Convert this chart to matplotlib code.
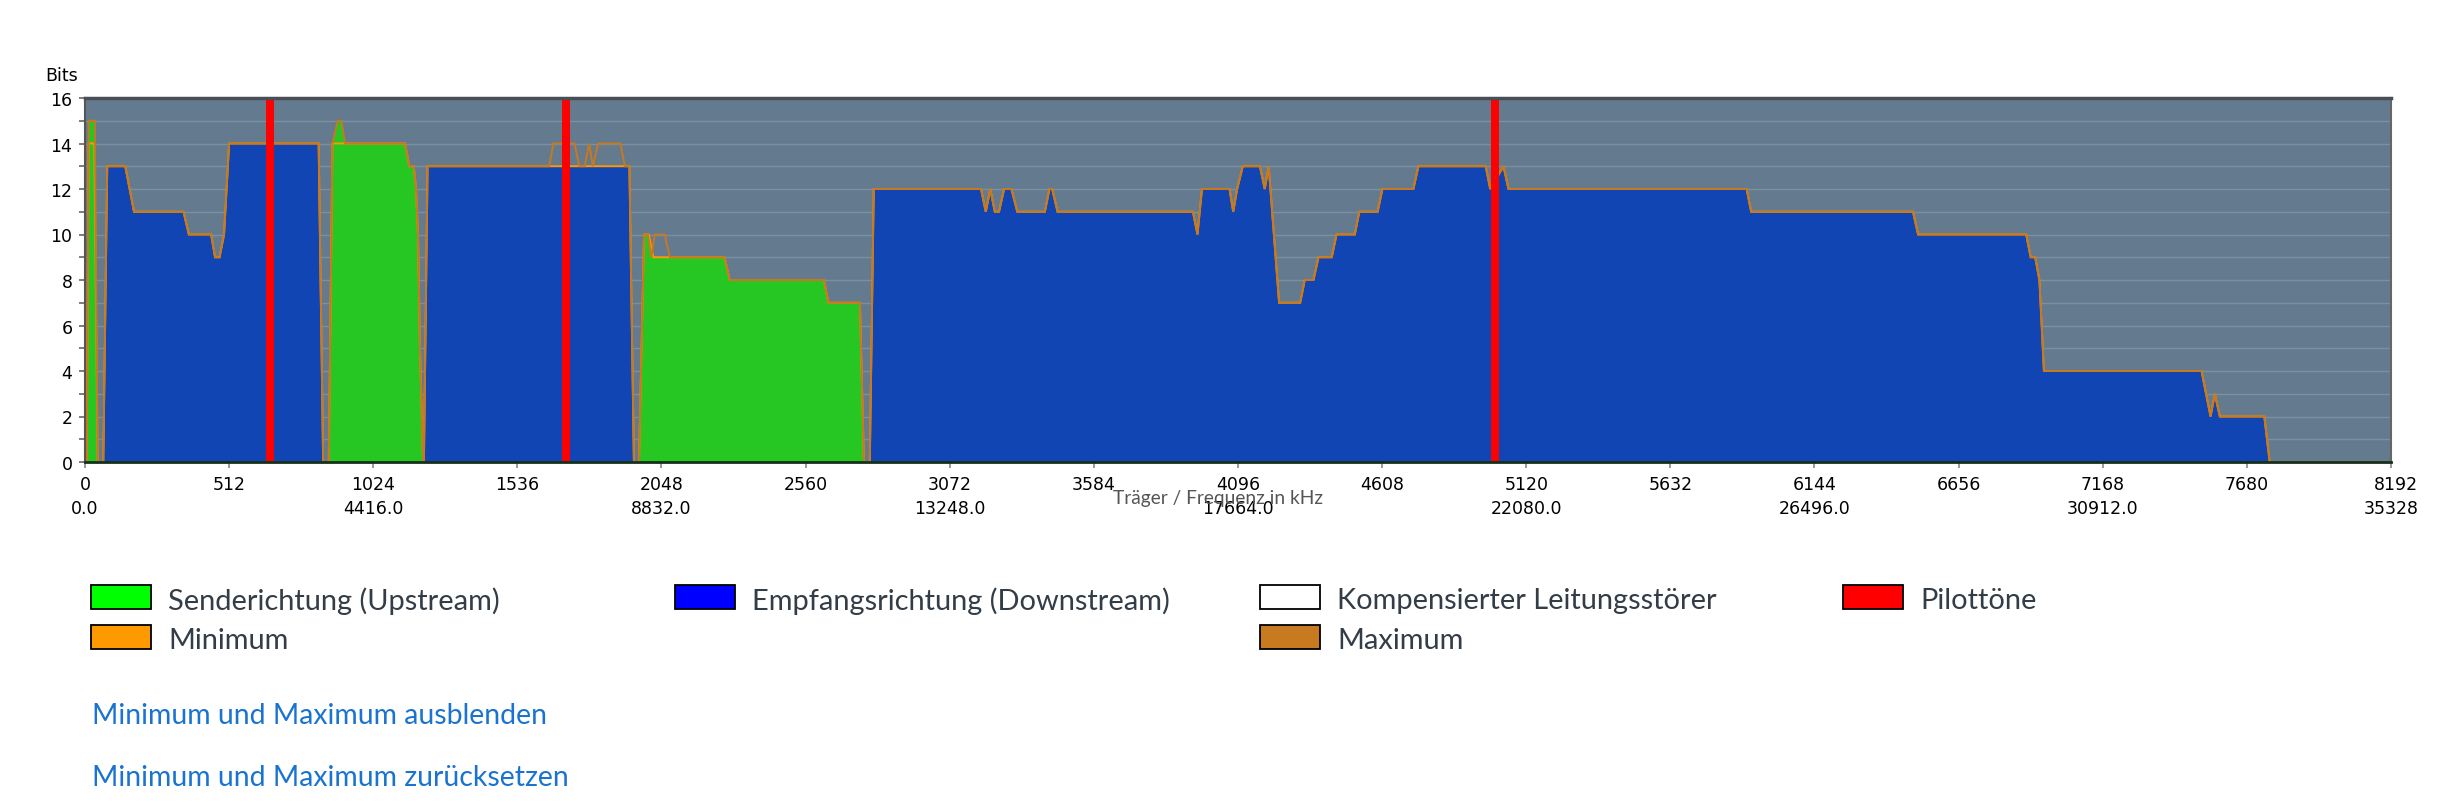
import numpy as np
import matplotlib
matplotlib.use("Agg")
import matplotlib.pyplot as plt
from matplotlib.patches import Rectangle

# ---------------- data (carrier index, bits) ----------------
us0_c = [6, 13, 35, 45]
us0_b = [0, 15, 15, 0]
ds1_c = [65, 79, 143, 174, 350, 369, 448, 462, 478, 494, 512, 830, 846]
ds1_b = [0, 13, 13, 11, 11, 10, 10, 9, 9, 10, 14, 14, 0]
us1_c = [866, 879, 898, 911, 924, 1137, 1152, 1168, 1176, 1183, 1190, 1201]
us1_b = [0, 14, 15, 15, 14, 14, 13, 13, 12, 10, 5, 0]
ds2_c = [1204, 1217, 1934, 1950]
ds2_b = [0, 13, 13, 0]
us2_c = [1968, 1986, 2003, 2019, 2272, 2290, 2625, 2641, 2753, 2767]
us2_b = [0, 10, 10, 9, 9, 8, 8, 7, 7, 0]
ds3_c = [2788, 2802, 3183, 3200, 3216, 3232, 3247, 3265, 3291, 3312, 3410, 3426,
         3436, 3455, 3936, 3952, 3968, 4066, 4079, 4093, 4113, 4174, 4191, 4205,
         4242, 4317, 4333, 4364, 4382, 4429, 4446, 4511, 4527, 4592, 4609, 4719,
         4737, 4976, 4992, 5039, 5057, 5903, 5919, 6494, 6512, 6896, 6912, 6928,
         6943, 6959, 7519, 7551, 7566, 7584, 7742, 7761]
ds3_b = [0, 12, 12, 11, 12, 11, 11, 12, 12, 11, 11, 12,
         12, 11, 11, 10, 12, 12, 11, 12, 13, 13, 12, 13,
         7, 7, 8, 8, 9, 9, 10, 10, 11, 11, 12, 12,
         13, 13, 12, 13, 12, 12, 11, 11, 10, 10, 9, 9,
         8, 4, 4, 2, 3, 2, 2, 0]

# deviations of the minimum / maximum lines from the current bit loading
# (range replaced, replacement carriers, replacement bits)
min_dev = [((12, 36), [13, 33], [14, 14]),
           ((897, 925), [], [])]
max_dev = [((1640, 1925), [1649, 1664, 1739, 1756, 1775, 1791, 1804, 1823, 1902, 1918],
                          [13, 14, 14, 13, 13, 14, 13, 14, 14, 13]),
           ((1985, 2080), [1986, 2000, 2012, 2024, 2059, 2078],
                          [10, 10, 9, 10, 10, 9])]

pilot_c = [656, 1710, 5008]

xtick_carriers = [0, 512, 1024, 1536, 2048, 2560, 3072, 3584, 4096, 4608, 5120,
                  5632, 6144, 6656, 7168, 7680, 8192]
xtick_khz = {0: "0.0", 1024: "4416.0", 2048: "8832.0", 3072: "13248.0",
             4096: "17664.0", 5120: "22080.0", 6144: "26496.0", 7168: "30912.0",
             8192: "35328"}

legend_items = [("Senderichtung (Upstream)", "#00FF00", 91, 586),
                ("Empfangsrichtung (Downstream)", "#0000FF", 675, 586),
                ("Kompensierter Leitungsstörer", "#FFFFFF", 1260, 586),
                ("Pilottöne", "#FF0000", 1843, 586),
                ("Minimum", "#FF9900", 91, 626),
                ("Maximum", "#C87A20", 1260, 626)]
links = [("Minimum und Maximum ausblenden", 716),
         ("Minimum und Maximum zurücksetzen", 778)]

# ---------------- styling ----------------
BG = "#647A8E"
BLUE = "#1245B4"
GREEN = "#27C723"
MINC = "#FF9900"
MAXC = "#C8781E"

W, H = 2446, 812
fig = plt.figure(figsize=(W / 100, H / 100), dpi=100)
ax = fig.add_axes([85 / W, 1 - 463 / H, (2391 - 85) / W, (463 - 99) / H])
ax.set_facecolor(BG)
ax.set_xlim(0, 8192)
ax.set_ylim(0, 16)

for y in range(1, 16):
    ax.axhline(y, color="#7B8FA2", lw=1.0, zorder=1)

up = [(us0_c, us0_b), (us1_c, us1_b), (us2_c, us2_b)]
down = [(ds1_c, ds1_b), (ds2_c, ds2_b), (ds3_c, ds3_b)]
for c, b in up:
    ax.fill_between(c, b, 0, color=GREEN, lw=0, zorder=2)
for c, b in down:
    ax.fill_between(c, b, 0, color=BLUE, lw=0, zorder=2)

# merged line through all segments
segs = sorted(up + down, key=lambda s: s[0][0])
base_c = [0]
base_b = [0]
for c, b in segs:
    base_c += list(c)
    base_b += list(b)
base_c.append(8192)
base_b.append(0)


def apply_dev(cs, bs, devs):
    cs, bs = list(cs), list(bs)
    for (lo, hi), rc, rb in devs:
        nc, nb = [], []
        inserted = False
        for c, b in zip(cs, bs):
            if lo <= c <= hi:
                if not inserted:
                    nc += rc
                    nb += rb
                    inserted = True
                continue
            if c > hi and not inserted:
                nc += rc
                nb += rb
                inserted = True
            nc.append(c)
            nb.append(b)
        cs, bs = nc, nb
    return cs, bs


min_c, min_b = apply_dev(base_c, base_b, min_dev)
max_c, max_b = apply_dev(base_c, base_b, max_dev)
ax.plot(min_c, min_b, color=MINC, lw=1.4, zorder=3, solid_joinstyle="miter")
ax.plot(max_c, max_b, color=MAXC, lw=1.4, zorder=4, solid_joinstyle="miter")

ax.bar(pilot_c, [16] * len(pilot_c), width=28, color="#FF0000", lw=0, zorder=5)

# spines
ax.spines["top"].set_color("#4A4F55")
ax.spines["top"].set_linewidth(2.5)
ax.spines["left"].set_color("#555555")
ax.spines["left"].set_linewidth(1.5)
ax.spines["right"].set_color("#666666")
ax.spines["right"].set_linewidth(1.5)
ax.spines["bottom"].set_color("#16301A")
ax.spines["bottom"].set_linewidth(2.0)
for s in ax.spines.values():
    s.set_zorder(6)

ax.set_yticks(range(0, 17, 2))
ax.set_yticks(range(1, 16, 2), minor=True)
ax.tick_params(axis="y", which="both", length=4, width=1.2, color="#666666",
               labelsize=12.5, pad=5)
labels = []
for c in xtick_carriers:
    labels.append(f"{c}\n{xtick_khz[c]}" if c in xtick_khz else f"{c}")
ax.set_xticks(xtick_carriers)
ax.set_xticklabels(labels)
ax.tick_params(axis="x", length=4, width=1.2, color="#888888", labelsize=12.5, pad=5)
for t in ax.get_xticklabels():
    t.set_linespacing(1.45)
    t.set_verticalalignment("top")
ax.get_xticklabels()[-1].set_multialignment("right")

# overlay in pixel coordinates
ov = fig.add_axes([0, 0, 1, 1])
ov.set_xlim(0, W)
ov.set_ylim(H, 0)
ov.axis("off")
ov.patch.set_visible(False)

ov.text(45, 76, "Bits", fontsize=12.5, ha="left", va="center", color="black")

renderer = fig.canvas.get_renderer()


def fit_size(s, target_px, family, start=16):
    t = ov.text(0, 0, s, fontsize=start, family=family)
    w = t.get_window_extent(renderer).width
    t.remove()
    return start * target_px / w


LEG_FONT = "Lato"
xl_size = fit_size("Träger / Frequenz in kHz", 212, LEG_FONT)
ov.text(1218, 499, "Träger / Frequenz in kHz", fontsize=xl_size, family=LEG_FONT,
        ha="center", va="center", color="#555555", zorder=0)

leg_size = fit_size("Empfangsrichtung (Downstream)", 420, LEG_FONT)
for label, col, x, y in legend_items:
    ov.add_patch(Rectangle((x, y), 60, 24, facecolor=col, edgecolor="black", lw=1.3))
    ov.text(x + 77, y + 15, label, fontsize=leg_size, family=LEG_FONT,
            ha="left", va="center", color="#333D47")

link_size = fit_size("Minimum und Maximum zurücksetzen", 478, LEG_FONT)
for label, y in links:
    ov.text(92, y, label, fontsize=link_size, family=LEG_FONT, ha="left",
            va="center", color="#1A73D0")

fig.savefig("out.png", dpi=100)
